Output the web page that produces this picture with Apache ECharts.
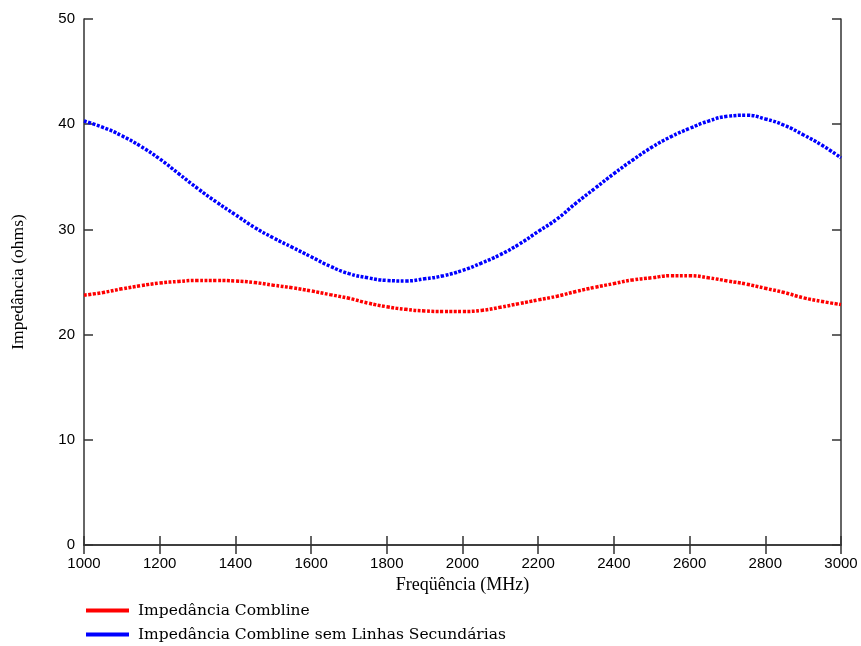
<!DOCTYPE html>
<html>
<head>
<meta charset="utf-8">
<script src="https://cdn.jsdelivr.net/npm/echarts@6/dist/echarts.min.js"></script>
<style>
  html, body { margin: 0; padding: 0; background: #fff; }
  #chart { width: 861px; height: 646px; }
</style>
</head>
<body>
<div id="chart"></div>
<script>
// Frequency samples (MHz)
const freqMHz = [
  1000, 1050, 1100, 1150, 1200, 1250, 1300, 1350, 1400, 1450,
  1500, 1550, 1600, 1650, 1700, 1750, 1800, 1850, 1900, 1950,
  2000, 2050, 2100, 2150, 2200, 2250, 2300, 2350, 2400, 2450,
  2500, 2550, 2600, 2650, 2700, 2750, 2800, 2850, 2900, 2950, 3000
];

// Impedância Combline (ohms)
const zCombline = [
  23.75, 24.0, 24.35, 24.65, 24.9, 25.05, 25.15, 25.15, 25.1, 24.95,
  24.7, 24.45, 24.15, 23.8, 23.45, 23.0, 22.65, 22.4, 22.25, 22.2,
  22.2, 22.3, 22.6, 22.95, 23.3, 23.65, 24.1, 24.5, 24.85, 25.2,
  25.4, 25.6, 25.6, 25.4, 25.1, 24.8, 24.4, 24.0, 23.5, 23.15, 22.85
];

// Impedância Combline sem Linhas Secundárias (ohms)
const zSemLinhas = [
  40.3, 39.7, 38.9, 37.9, 36.7, 35.3, 33.9, 32.6, 31.4, 30.2,
  29.2, 28.3, 27.4, 26.5, 25.8, 25.4, 25.15, 25.1, 25.3, 25.6,
  26.1, 26.8, 27.6, 28.6, 29.8, 31.0, 32.5, 33.9, 35.3, 36.6,
  37.8, 38.8, 39.6, 40.3, 40.75, 40.85, 40.5, 39.9, 39.0, 38.0, 36.8
];

const seriesNames = [
  'Impedância Combline',
  'Impedância Combline sem Linhas Secundárias'
];

const xTitle = 'Freqüência (MHz)';
const yTitle = 'Impedância (ohms)';

const axisColor = '#333';
const serif = '"Liberation Serif", serif';
const wideSerif = '"DejaVu Serif", serif';
const sans = '"Liberation Sans", sans-serif';

const pairs = (ys) => freqMHz.map((f, i) => [f, ys[i]]);
const plain = (v) => String(v);

const xBase = {
  type: 'value', min: 1000, max: 3000, interval: 200,
  axisLine: { show: true, lineStyle: { color: axisColor, width: 1.5 } },
  axisTick: { show: true, inside: true, length: 9, lineStyle: { color: axisColor, width: 1.5 } },
  splitLine: { show: false }
};
const yBase = {
  type: 'value', min: 0, max: 50, interval: 10,
  axisLine: { show: true, lineStyle: { color: axisColor, width: 1.5 } },
  axisTick: { show: true, inside: true, length: 9, lineStyle: { color: axisColor, width: 1.5 } },
  splitLine: { show: false }
};

function draw() {
  const chart = echarts.init(document.getElementById('chart'), null, { renderer: 'canvas' });
  chart.setOption({
    animation: false,
    backgroundColor: '#fff',
    grid: { left: 84, right: 20, top: 19, bottom: 101, containLabel: false },
    legend: {
      orient: 'vertical',
      left: 81, top: 596, height: 60,
      itemWidth: 43, itemHeight: 4, itemGap: 5,
      icon: 'rect',
      textStyle: { fontFamily: wideSerif, fontSize: 15.5, color: '#000', padding: [0, 0, 0, 4], lineHeight: 19 },
      data: seriesNames
    },
    xAxis: [
      Object.assign({}, xBase, {
        position: 'bottom',
        name: xTitle, nameLocation: 'middle', nameGap: 29,
        nameTextStyle: { fontFamily: serif, fontSize: 18, color: '#000' },
        axisLabel: { show: true, margin: 11, fontFamily: sans, fontSize: 15, color: '#000', formatter: plain }
      }),
      Object.assign({}, xBase, { position: 'top', axisLabel: { show: false } })
    ],
    yAxis: [
      Object.assign({}, yBase, {
        position: 'left',
        name: yTitle, nameLocation: 'middle', nameGap: 57,
        nameTextStyle: { fontFamily: serif, fontSize: 17.5, color: '#000' },
        axisLabel: { show: true, margin: 9, fontFamily: sans, fontSize: 15, color: '#000', formatter: plain }
      }),
      Object.assign({}, yBase, { position: 'right', axisLabel: { show: false } })
    ],
    series: [
      {
        name: seriesNames[0], type: 'line', xAxisIndex: 0, yAxisIndex: 0,
        data: pairs(zCombline), smooth: true, showSymbol: false, symbol: 'none',
        color: '#ff0000',
        lineStyle: { color: '#ff0000', width: 3.5, type: [3, 1.5] }
      },
      {
        name: seriesNames[1], type: 'line', xAxisIndex: 0, yAxisIndex: 0,
        data: pairs(zSemLinhas), smooth: true, showSymbol: false, symbol: 'none',
        color: '#0000ff',
        lineStyle: { color: '#0000ff', width: 3.5, type: [3, 1.5] }
      }
    ]
  });
}

// Make sure the local fonts are ready before text is measured.
const fontLoads = [
  '15px "Liberation Sans"',
  '17px "Liberation Serif"',
  '15.5px "DejaVu Serif"'
].map((f) => document.fonts.load(f, 'Impedância 0123456789'));
Promise.all(fontLoads).catch(() => {}).then(draw);
</script>
</body>
</html>
